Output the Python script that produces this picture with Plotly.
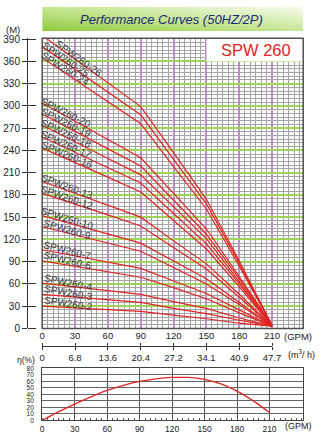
import base64
import numpy as np
import plotly.graph_objects as go

W, H = 326, 440

# ---------------- data ----------------
gpm = [0, 30, 60, 90, 120, 150, 180, 210]
m3h_ticks = ["0", "6.8", "13.6", "20.4", "27.2", "34.1", "40.9", "47.7"]
gpm_ticks = [0, 30, 60, 90, 120, 150, 180, 210]
head_ticks = list(range(0, 391, 30))

head_spw260_26 = [395, 363, 331, 299, 237, 174, 91, 4]
head_spw260_25 = [380, 349, 318, 288, 228, 168, 88, 4]
head_spw260_24 = [365, 335, 306, 276, 218, 161, 84, 4]
head_spw260_20 = [304, 279, 255, 230, 182, 134, 70, 4]
head_spw260_19 = [289, 265, 242, 219, 173, 127, 67, 4]
head_spw260_18 = [274, 251, 229, 207, 164, 121, 63, 4]
head_spw260_17 = [258, 237, 216, 196, 155, 114, 60, 3]
head_spw260_16 = [243, 224, 204, 184, 146, 107, 56, 3]
head_spw260_13 = [198, 182, 165, 150, 118, 87, 46, 3]
head_spw260_12 = [182, 168, 153, 138, 109, 80, 42, 3]
head_spw260_10 = [152, 140, 127, 115, 91, 67, 35, 3]
head_spw260_9 = [137, 126, 115, 104, 82, 60, 32, 3]
head_spw260_7 = [106, 98, 89, 81, 64, 47, 25, 3]
head_spw260_6 = [91, 84, 76, 69, 55, 40, 21, 3]
head_spw260_4 = [61, 56, 51, 46, 36, 27, 14, 3]
head_spw260_3 = [46, 42, 38, 35, 27, 20, 11, 3]
head_spw260_2 = [30, 28, 25, 23, 18, 13, 7, 3]

curve_names = ["SPW260-26", "SPW260-25", "SPW260-24", "SPW260-20", "SPW260-19",
               "SPW260-18", "SPW260-17", "SPW260-16", "SPW260-13", "SPW260-12",
               "SPW260-10", "SPW260-9", "SPW260-7", "SPW260-6", "SPW260-4",
               "SPW260-3", "SPW260-2"]
curve_heads = [head_spw260_26, head_spw260_25, head_spw260_24, head_spw260_20,
               head_spw260_19, head_spw260_18, head_spw260_17, head_spw260_16,
               head_spw260_13, head_spw260_12, head_spw260_10, head_spw260_9,
               head_spw260_7, head_spw260_6, head_spw260_4, head_spw260_3,
               head_spw260_2]

eff_gpm = [0, 15, 30, 45, 60, 75, 90, 105, 120, 135, 150, 165, 180, 195, 210]
eff_pct = [0, 13, 25, 36, 46, 54, 60, 64, 66, 66, 63, 56, 45, 30, 12]

# ---------------- layout geometry (pixels) ----------------
def fx(p):
    return p / W

def fy(p):
    return 1 - p / H

X0, XR = 40.7, 311.7           # plot left / right
YB, YT = 331.7, 34.0           # main plot bottom / top
PX_PER_GPM = 34.1 / 30
PX_PER_M = (331.7 - 35.0) / 390
xmax = (XR - X0) / PX_PER_GPM
ymax = (YB - YT) / PX_PER_M

EB, ET = 426.0, 372.7          # efficiency plot bottom / top
EPX_PER_GPM = (276.7 - X0) / 210
exmax = (XR - X0) / EPX_PER_GPM

RED = "#e02424"
FONT = "Liberation Sans, Arial, sans-serif"

fig = go.Figure()

for name, h in zip(curve_names, curve_heads):
    fig.add_trace(go.Scatter(x=gpm, y=h, mode="lines", name=name,
                             line=dict(color=RED, width=1.2),
                             xaxis="x", yaxis="y", hoverinfo="skip",
                             showlegend=False))

fig.add_trace(go.Scatter(x=eff_gpm, y=eff_pct, mode="lines",
                         line=dict(color=RED, width=1.3, shape="spline"),
                         xaxis="x6", yaxis="y6", hoverinfo="skip",
                         showlegend=False))

# empty helper traces so that the extra (free) axes get drawn
for xa, ya in [("x", "y3"), ("x", "y4"), ("x2", "y7"), ("x5", "y7")]:
    fig.add_trace(go.Scatter(x=[None], y=[None], mode="lines", xaxis=xa,
                             yaxis=ya, hoverinfo="skip", showlegend=False))

# ---------------- curve labels ----------------
label_angles = [36, 34, 32, 27, 26, 25, 24, 23, 20, 19, 17, 16, 14, 13, 11, 10, 9]
label_start_px = [58, 44, 42, 42, 42, 42, 42, 42, 42, 42, 42, 42, 42, 42, 42, 42, 42]
annotations = []
for name, h, ang, sx in zip(curve_names, curve_heads, label_angles, label_start_px):
    cx_px = sx + 26 * np.cos(np.radians(ang))
    cx = (cx_px - X0) / PX_PER_GPM
    cy = float(np.interp(cx, gpm, h)) + 5.5
    annotations.append(dict(x=cx, y=cy, xref="x", yref="y", text=name,
                            showarrow=False, textangle=ang,
                            font=dict(family=FONT, size=10, color="#3a3a3a"),
                            xanchor="center", yanchor="middle"))

def pa(x, y, text, size=9.5, color="#222", **kw):
    d = dict(x=fx(x), y=fy(y), xref="paper", yref="paper", text=text,
             showarrow=False, font=dict(family=FONT, size=size, color=color),
             xanchor="center", yanchor="middle")
    d.update(kw)
    annotations.append(d)

pa(10, 25, "(M)", 9.5)
pa(306, 339.5, "(GPM)", 9.5)
pa(310, 357.7, "(m<sup>3</sup>/ h)", 9)
pa(24, 364, "η(%)", 8.5)
pa(306.7, 431.5, "(GPM)", 9)
pa(175, 14.5, "Performance Curves (50HZ/2P)", 13, "#1b2a7a", font=dict(
    family=FONT, size=13, color="#1b2a7a", style="italic"))
pa(263, 46.5, "SPW 260", 16.5, "#e02424")

# ---------------- banner gradient ----------------
svg = ('<svg xmlns="http://www.w3.org/2000/svg" width="271" height="25" '
       'preserveAspectRatio="none" viewBox="0 0 271 25">'
       '<defs><linearGradient id="g" x1="0" y1="1" x2="1" y2="0">'
       '<stop offset="0" stop-color="#8fca3e"/>'
       '<stop offset="0.45" stop-color="#c2e48c"/>'
       '<stop offset="1" stop-color="#f8fcee"/>'
       '</linearGradient></defs>'
       '<rect width="271" height="25" fill="url(#g)"/></svg>')
src = "data:image/svg+xml;base64," + base64.b64encode(svg.encode()).decode()

images = [dict(source=src, xref="paper", yref="paper", x=fx(40.7), y=fy(1.7),
               sizex=(311.7 - 40.7) / W, sizey=25 / H, sizing="stretch",
               xanchor="left", yanchor="top", layer="below")]

# ---------------- shapes ----------------
shapes = [
    dict(type="rect", xref="x", yref="y", x0=150, x1=xmax, y0=360, y1=ymax,
         fillcolor="white", line=dict(width=0), layer="above"),
    dict(type="rect", xref="x domain", yref="y domain", x0=0, x1=1, y0=0, y1=1,
         line=dict(color="#505050", width=1.5), fillcolor="rgba(0,0,0,0)",
         layer="above"),
]

tickfont = dict(family=FONT, size=9.5, color="#222")

fig.update_layout(
    width=W, height=H, margin=dict(l=0, r=0, t=0, b=0),
    paper_bgcolor="white", plot_bgcolor="rgba(0,0,0,0)",
    annotations=annotations, shapes=shapes, images=images,
    xaxis=dict(domain=[fx(X0), fx(XR)], range=[0, xmax], anchor="y",
               tickvals=gpm_ticks, ticks="", showline=False,
               showgrid=True, gridcolor="#bb8fc4", gridwidth=1.6,
               minor=dict(dtick=5, tick0=0, showgrid=True,
                          gridcolor="#a4a4a4", gridwidth=1),
               tickfont=tickfont, zeroline=False, fixedrange=True),
    yaxis=dict(domain=[fy(YB), fy(YT)], range=[0, ymax], anchor="x",
               tickvals=head_ticks, showticklabels=False, ticks="",
               showgrid=True, gridcolor="#9fd35c", gridwidth=1.6,
               minor=dict(dtick=5, tick0=0, showgrid=True,
                          gridcolor="#a4a4a4", gridwidth=1),
               zeroline=False, fixedrange=True),
    yaxis3=dict(overlaying="y", anchor="free", position=fx(25), side="left",
                range=[0, ymax], tickvals=head_ticks, ticks="outside",
                ticklen=5, tickcolor="#333", showline=True, linecolor="#333",
                linewidth=1.2, showgrid=False, zeroline=False,
                tickfont=dict(family=FONT, size=10, color="#222")),
    yaxis4=dict(overlaying="y", anchor="free", position=fx(25), side="right",
                range=[0, ymax], tickvals=head_ticks, ticks="outside",
                ticklen=8, tickcolor="#333", showline=False,
                showticklabels=False, showgrid=False, zeroline=False),
    yaxis7=dict(domain=[fy(352), fy(347)], range=[0, 1], anchor="free",
                position=0, visible=False, showgrid=False, zeroline=False),
    xaxis2=dict(anchor="free", position=fy(349.3), domain=[fx(X0), fx(279.3)],
                range=[0, 210], tickvals=gpm_ticks, ticktext=m3h_ticks,
                side="bottom", ticks="outside", ticklen=3, tickcolor="#333",
                showline=True, linecolor="#333", linewidth=1.2,
                showgrid=False, zeroline=False, tickfont=tickfont),
    xaxis5=dict(anchor="free", position=fy(349.3), domain=[fx(X0), fx(279.3)],
                range=[0, 210], tickvals=gpm_ticks, side="top",
                ticks="outside", ticklen=3, tickcolor="#333",
                showline=False, showticklabels=False, showgrid=False,
                zeroline=False),
    xaxis6=dict(domain=[fx(X0), fx(XR)], range=[0, exmax], anchor="y6",
                tickvals=gpm_ticks, ticks="", showgrid=True,
                gridcolor="#555", gridwidth=1, showline=True, mirror=True,
                linecolor="#444", linewidth=1.2, zeroline=False,
                minor=dict(dtick=5, tick0=0, ticks="inside", ticklen=2,
                           tickcolor="#555"),
                tickfont=dict(family=FONT, size=8.5, color="#222")),
    yaxis6=dict(domain=[fy(EB), fy(ET)], range=[0, 80], anchor="x6",
                dtick=10, ticks="", showgrid=True, gridcolor="#666",
                gridwidth=0.8, showline=True, mirror=True, linecolor="#444",
                linewidth=1.2, zeroline=False, ticklabelstandoff=6,
                tickfont=dict(family=FONT, size=6.5, color="#222")),
)

fig.write_html("out.html")
